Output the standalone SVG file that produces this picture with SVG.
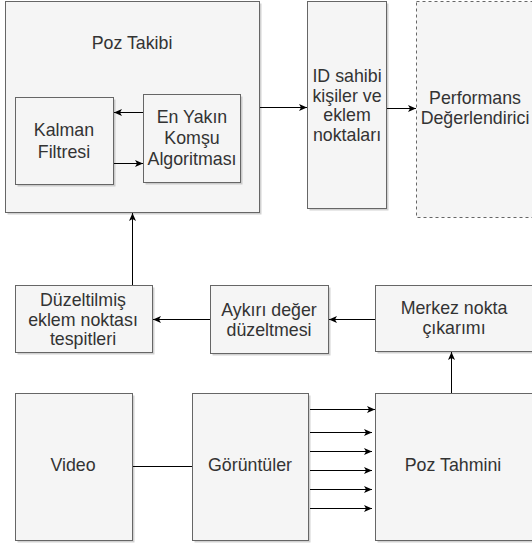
<svg xmlns="http://www.w3.org/2000/svg" width="532" height="545" viewBox="0 0 532 545">
<style>
.box{fill:#f5f5f5;stroke:#666666;stroke-width:1}
.dash{fill:#f5f5f5;stroke:#666666;stroke-width:1;stroke-dasharray:3 3}
.sh{fill:#8c8c8c;opacity:0.4}
text{font-family:"Liberation Sans",Arial,sans-serif;font-size:17.8px;fill:#333333;text-anchor:middle}
.c{stroke:#000000;stroke-width:1;fill:none}
.a{marker-end:url(#arr)}
</style>
<defs>
<marker id="arr" markerUnits="userSpaceOnUse" markerWidth="10" markerHeight="10" refX="9" refY="5" orient="auto">
<path d="M1,1.5 L9,5 L1,8.5 L3,5 z" fill="#000"/>
</marker>
</defs>
<g id="poz-takibi">
<rect class="sh" x="7.5" y="3.5" width="254" height="211"/>
<rect class="box" x="5.5" y="1.5" width="254" height="211"/>
<text x="132" y="49">Poz Takibi</text>
</g>
<g id="kalman">
<rect class="sh" x="17.5" y="99.5" width="98" height="87"/>
<rect class="box" x="15.5" y="97.5" width="98" height="87"/>
<text x="64" y="136">Kalman</text>
<text x="64" y="158">Filtresi</text>
</g>
<g id="en-yakin">
<rect class="sh" x="145.5" y="96.5" width="97" height="88"/>
<rect class="box" x="143.5" y="94.5" width="97" height="88"/>
<text x="192" y="123">En Yakın</text>
<text x="192" y="144">Komşu</text>
<text x="192" y="165">Algoritması</text>
</g>
<g id="id-sahibi">
<rect class="sh" x="309.5" y="3.5" width="79" height="207"/>
<rect class="box" x="307.5" y="1.5" width="79" height="207"/>
<text x="347" y="82">ID sahibi</text>
<text x="347" y="101.5">kişiler ve</text>
<text x="347" y="121">eklem</text>
<text x="347" y="140.5">noktaları</text>
</g>
<g id="performans">
<rect class="dash" x="416.5" y="1.5" width="125" height="216"/>
<text x="475" y="104">Performans</text>
<text x="475" y="123.5">Değerlendirici</text>
</g>
<g id="duzeltilmis">
<rect class="sh" x="17.5" y="287.5" width="137" height="67"/>
<rect class="box" x="15.5" y="285.5" width="137" height="67"/>
<text x="83" y="306">Düzeltilmiş</text>
<text x="83" y="325.5">eklem noktası</text>
<text x="83" y="345">tespitleri</text>
</g>
<g id="aykiri">
<rect class="sh" x="212.5" y="287.5" width="118" height="68"/>
<rect class="box" x="210.5" y="285.5" width="118" height="68"/>
<text x="269" y="316">Aykırı değer</text>
<text x="269" y="336">düzeltmesi</text>
</g>
<g id="merkez">
<rect class="sh" x="377.5" y="287.5" width="165" height="66"/>
<rect class="box" x="375.5" y="285.5" width="165" height="66"/>
<text x="454" y="314">Merkez nokta</text>
<text x="454" y="334">çıkarımı</text>
</g>
<g id="video">
<rect class="sh" x="17.5" y="395.5" width="117" height="147"/>
<rect class="box" x="15.5" y="393.5" width="117" height="147"/>
<text x="73" y="471">Video</text>
</g>
<g id="goruntuler">
<rect class="sh" x="194.5" y="395.5" width="116" height="147"/>
<rect class="box" x="192.5" y="393.5" width="116" height="147"/>
<text x="250" y="471">Görüntüler</text>
</g>
<g id="poz-tahmini">
<rect class="sh" x="377.5" y="395.5" width="165" height="147"/>
<rect class="box" x="375.5" y="393.5" width="165" height="147"/>
<text x="453" y="471">Poz Tahmini</text>
</g>
<g id="connectors">
<path class="c a" d="M143,112.5 L114,112.5"/>
<path class="c a" d="M114,163.5 L143,163.5"/>
<path class="c a" d="M260,107.5 L307,107.5"/>
<path class="c a" d="M387,108.5 L416,108.5"/>
<path class="c a" d="M375,319.5 L329,319.5"/>
<path class="c a" d="M210,319.5 L153,319.5"/>
<path class="c a" d="M132.5,285 L132.5,213"/>
<path class="c a" d="M451.5,393 L451.5,352"/>
<path class="c" d="M133,466.5 L192,466.5"/>
<path class="c a" d="M310,409.5 L375,409.5"/>
<path class="c a" d="M310,432.5 L372,432.5"/>
<path class="c a" d="M310,451.5 L372,451.5"/>
<path class="c a" d="M310,470.5 L372,470.5"/>
<path class="c a" d="M310,489.5 L372,489.5"/>
<path class="c a" d="M310,508.5 L372,508.5"/>
</g>
</svg>
